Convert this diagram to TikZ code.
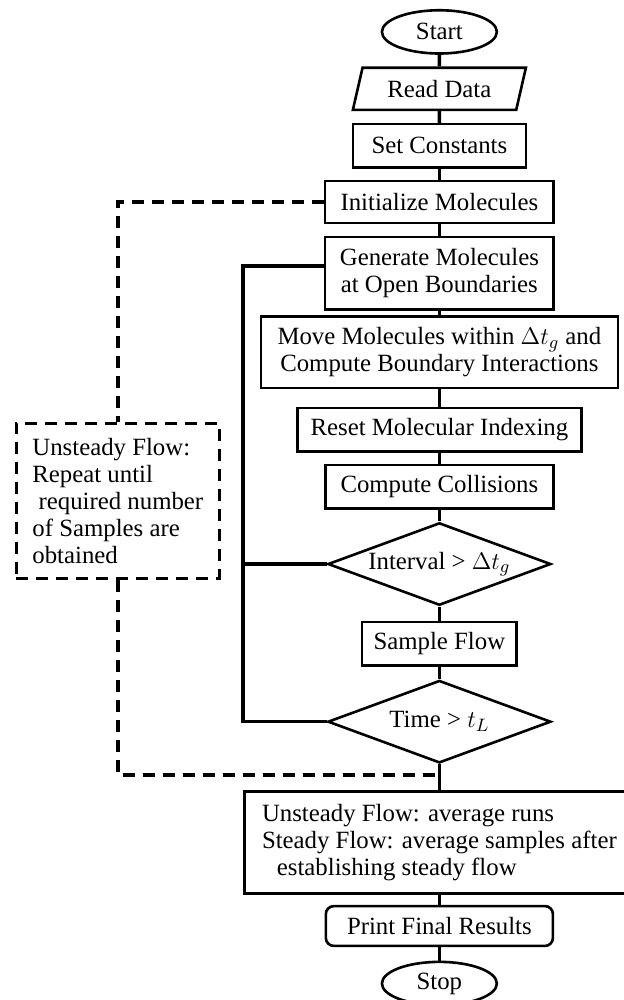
\documentclass[tikz,border=0pt]{standalone}
\usepackage{fontspec}
\setmainfont{Liberation Serif}
\usetikzlibrary{shapes.geometric}

\begin{document}
\begin{tikzpicture}[font=\fontsize{12.4}{13.5}\selectfont,
  box/.style={draw, line width=1.3pt, inner sep=2pt, align=center},
  term/.style={draw, ellipse, line width=1.3pt, inner sep=0pt,
    minimum width=2.02cm, minimum height=0.76cm},
  test/.style={draw, diamond, line width=1.3pt, inner sep=0pt, aspect=2.7,
    minimum width=3.92cm, minimum height=1.45cm},
  conn/.style={line width=1.8pt},
  dashline/.style={line width=1.7pt, dash pattern=on 6pt off 4pt}]
  \useasboundingbox (0,0) rectangle (10.95,-17.57);
  % main column
  \node[term] (start) at (7.72,-0.56) {Start};
  \node[draw, trapezium, trapezium left angle=61, trapezium right angle=119,
    trapezium stretches body, line width=1.3pt, inner sep=0pt,
    minimum width=3.04cm, minimum height=0.74cm] (read) at (7.72,-1.56) {Read Data};
  \node[box, minimum width=3.04cm, minimum height=0.76cm] (setc) at (7.72,-2.56) {Set Constants};
  \node[box, minimum width=4.02cm, minimum height=0.74cm] (init) at (7.72,-3.55) {Initialize Molecules};
  \node[box, minimum width=4.02cm, minimum height=1.27cm] (gen) at (7.72,-4.80)
    {Generate Molecules\\at Open Boundaries};
  \node[box, minimum width=6.27cm, minimum height=1.25cm] (move) at (7.72,-6.19)
    {Move Molecules within $\Delta t_g$ and\\Compute Boundary Interactions};
  \node[box, minimum width=4.99cm, minimum height=0.76cm] (reset) at (7.72,-7.55) {Reset Molecular Indexing};
  \node[box, minimum width=4.0cm, minimum height=0.76cm] (coll) at (7.72,-8.55) {Compute Collisions};
  \node[test] (intv) at (7.72,-9.91) {Interval > $\Delta t_g$};
  \node[box, minimum width=2.72cm, minimum height=0.76cm] (sample) at (7.72,-11.31) {Sample Flow};
  \node[test] (time) at (7.72,-12.68) {Time > $t_L$};
  \node[box, align=left, minimum width=6.85cm, minimum height=1.79cm] (avg) at (7.72,-14.80)
    {Unsteady Flow: average runs\\Steady Flow: average samples after\\
     \hspace*{0.6em}establishing steady flow};
  \node[box, rounded corners=4pt, minimum width=3.99cm, minimum height=0.70cm] (print) at (7.72,-16.27)
    {Print Final Results};
  \node[term] (stop) at (7.72,-17.28) {Stop};
  % unsteady note
  \node[draw, dashline, align=left, inner sep=2pt, minimum width=3.57cm, minimum height=2.72cm]
    (note) at (2.07,-8.80)
    {Unsteady Flow:\\Repeat until\\\hspace*{0.25em}required number\\of Samples are\\obtained};
  \coordinate (back) at (4.27,-4.67);
  \coordinate (join) at (7.72,-13.62);

  \foreach \a/\b in {start/read,read/setc,setc/init,init/gen,gen/move,move/reset,
      reset/coll,coll/intv,intv/sample,sample/time,time/avg,avg/print,print/stop}
    \draw[conn] (\a) -- (\b);
  % time step loop
  \draw[conn] ([yshift=0.13cm]gen.west) -- (back) |- (time.west);
  \draw[conn] (intv.west) -- (intv.west -| back);
  % repeat runs
  \draw[dashline] (init.west) -| (note.north);
  \draw[dashline] (note.south) |- (join);
\end{tikzpicture}
\end{document}
